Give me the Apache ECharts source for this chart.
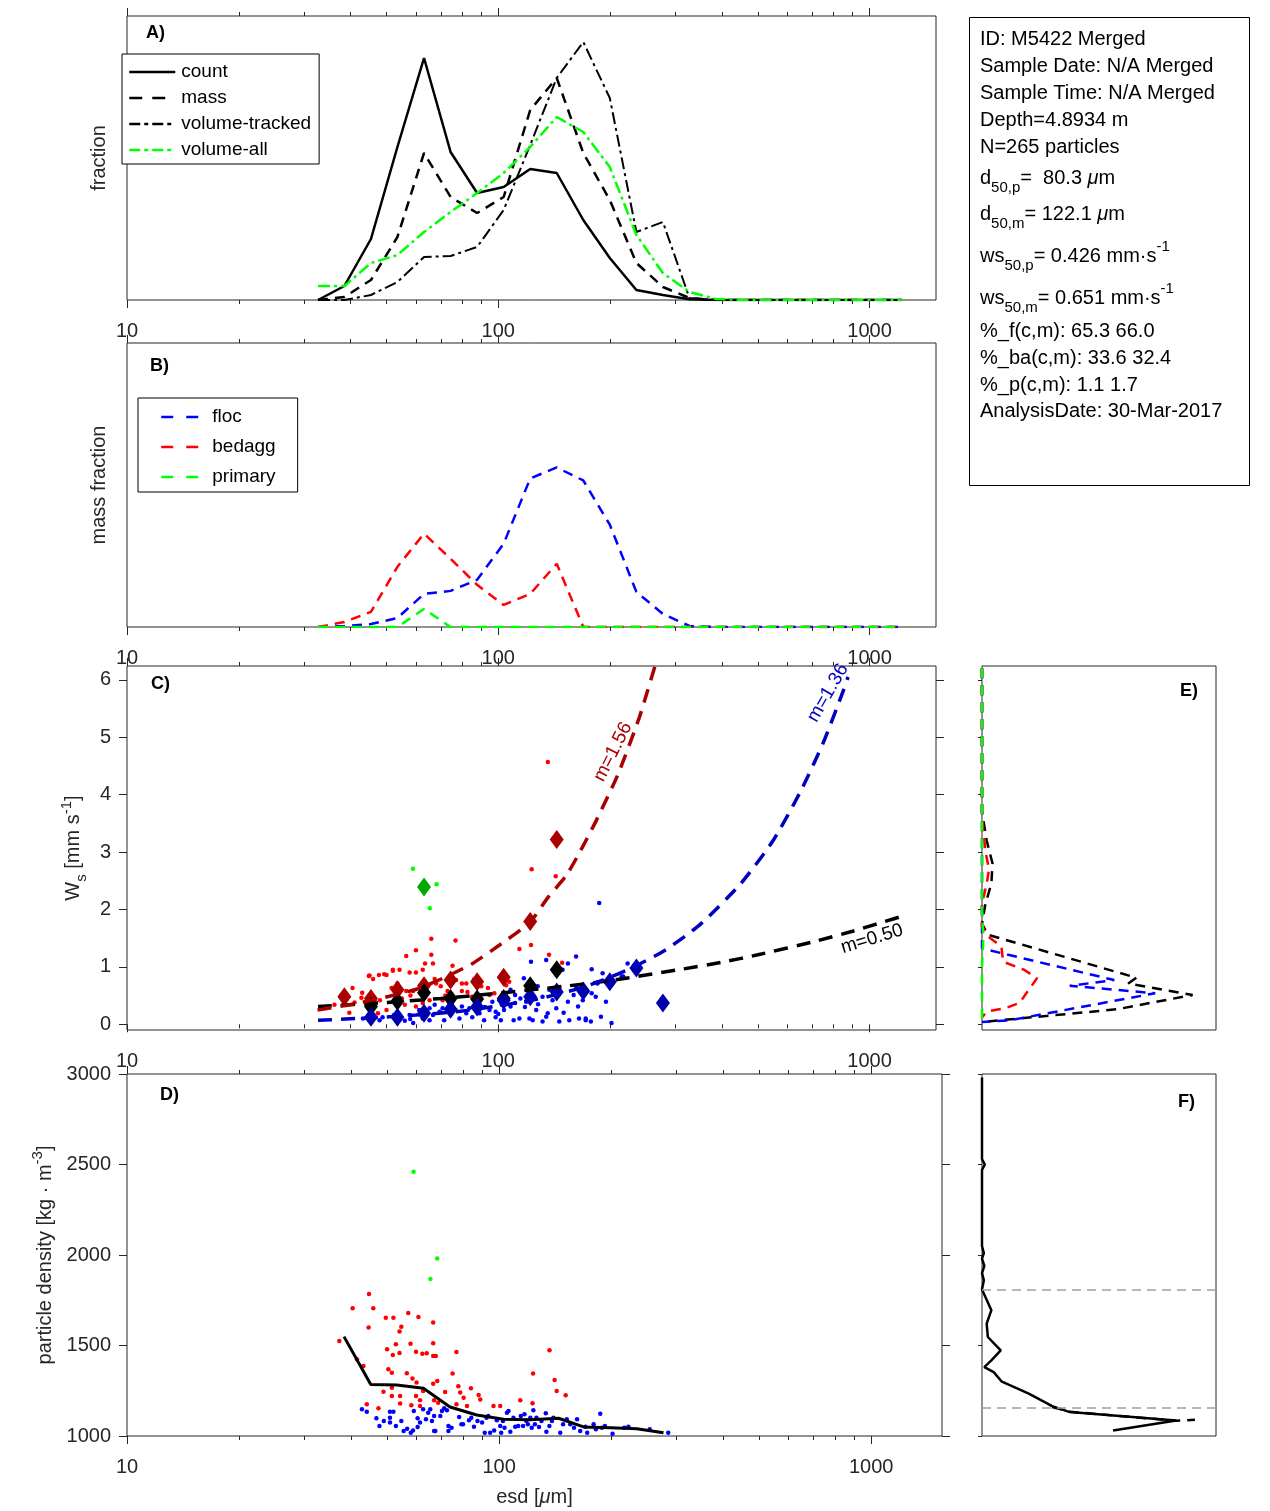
<!DOCTYPE html>
<html><head><meta charset="utf-8">
<script src="https://cdn.jsdelivr.net/npm/echarts@6/dist/echarts.min.js"></script>
<style>html,body{margin:0;padding:0;background:#fff}#c{width:1270px;height:1511px}</style>
</head><body><div id="c"></div>
<script>
// ================= DATA =================
const binEsd = [32.7, 38.5, 45.4, 53.5, 63.1, 74.4, 87.7, 103.4, 121.9, 143.7, 169.4, 199.7, 235.5, 277.6, 327.3, 385.9, 455.0, 536.5, 632.5, 745.7, 879.2, 1036.6, 1222.1];
const countFrac      = [0, 1.4, 6.1, 15.3, 24.2, 14.8, 10.7, 11.3, 13.1, 12.7, 8.0, 4.2, 1.0, 0.5, 0.07, 0, 0, 0, 0, 0, 0, 0, 0];
const massFrac       = [0, 0.3, 2.0, 6.3, 14.7, 10.3, 8.7, 10.3, 19.0, 22.2, 14.7, 10.0, 3.7, 1.3, 0.2, 0, 0, 0, 0, 0, 0, 0, 0];
const volTrackedFrac = [0, 0, 0.5, 1.8, 4.3, 4.4, 5.3, 9.0, 15.5, 22.2, 25.8, 20.2, 6.8, 7.8, 0.2, 0, 0, 0, 0, 0, 0, 0, 0];
const volAllFrac     = [1.4, 1.4, 3.7, 4.5, 6.8, 8.8, 10.7, 12.7, 15.3, 18.3, 16.8, 13.3, 6.5, 2.7, 0.8, 0.1, 0, 0, 0, 0, 0, 0, 0];
const flocMass    = [0, 0.1, 0.3, 0.9, 3.3, 3.6, 4.7, 8.3, 14.8, 15.9, 14.6, 10.2, 3.5, 1.3, 0.1, 0, 0, 0, 0, 0, 0, 0, 0];
const bedaggMass  = [0, 0.5, 1.5, 6.0, 9.3, 6.8, 4.2, 2.2, 3.3, 6.3, 0, 0, 0, 0, 0, 0, 0, 0, 0, 0, 0, 0, 0];
const primaryMass = [0, 0, 0, 0, 1.8, 0, 0, 0, 0, 0, 0, 0, 0, 0, 0, 0, 0, 0, 0, 0, 0, 0, 0];

const majorTicks = [10, 100, 1000];
const minorTicks = [20, 30, 40, 50, 60, 70, 80, 90, 200, 300, 400, 500, 600, 700, 800, 900];
const wsTicks = [0, 1, 2, 3, 4, 5, 6];
const densTicks = [1000, 1500, 2000, 2500, 3000];

// panel C: settling velocity [esd, ws]
const wsBedagg = [[66,1.49],[76.7,1.46],[122.5,1.38],[114,1.31],[60,1.29],[56.5,1.19],[66,1.21],[63.5,1.06],[66.7,1.06],[52,0.95],[54.2,0.95],[49.3,0.87],[57.7,0.9],[60,0.9],[62.6,0.95],[75.3,1.02],[45,0.85],[46,0.79],[77,0.77],[79.8,0.71],[82,0.71],[67.4,0.79],[53.5,0.71],[51.6,0.63],[56.5,0.58],[59,0.58],[40.5,0.63],[36.2,0.34],[73,0.58],[79.8,0.58],[82.6,0.56],[93.8,0.63],[94.7,0.51],[97.6,0.54],[105,0.68],[107,0.74],[89,0.41],[39.7,0.2],[47.4,0.19],[50,0.25],[42.8,0.46],[137,1.21],[148.6,1.07],[70.8,0.42],[65.3,0.42],[60,0.31],[56,0.34],[62.6,0.37],[123,2.70],[142.8,2.58],[136,4.57],[44.8,0.84],[47.7,0.86],[50,0.86],[52,0.93],[38,0.5],[41,0.38],[43,0.55],[48,0.42],[55,0.45],[58,0.5],[64,0.62],[70,0.66],[72,0.5],[85,0.48],[68,0.71],[86,0.78],[90,0.66]];
const wsFloc = [[45,0.16],[47.9,0.07],[52.4,0.16],[56,0.06],[57.9,0.09],[61.2,0.25],[65.3,0.28],[67.4,0.34],[69.5,0.22],[70.8,0.28],[71.5,0.07],[73.9,0.34],[76.7,0.25],[79.8,0.31],[82,0.19],[83.6,0.28],[86.8,0.37],[89,0.19],[91.6,0.07],[94.7,0.25],[96.4,0.39],[98.4,0.22],[101.6,0.07],[103.6,0.25],[107.9,0.31],[111,0.37],[114.7,0.45],[117.2,0.8],[119,0.39],[123.8,0.07],[126.5,0.25],[131.6,0.48],[134.6,0.13],[137.2,0.6],[143.3,0.28],[146,0.05],[149,0.95],[154,0.39],[159.6,0.51],[162,1.18],[164,0.31],[168.9,0.42],[172,0.1],[178.5,0.54],[185,0.71],[191,0.89],[195,0.39],[201.8,0.02],[215,0.83],[223,1.06],[122.5,1.09],[134.6,1.12],[154,1.06],[111,0.51],[105,0.48],[110,0.07],[114,0.1],[121.3,0.1],[131.6,0.05],[135.9,0.19],[155.3,0.07],[165,0.1],[177.6,0.05],[65.3,0.07],[62.6,0.1],[59,0.02],[53,0.1],[48.8,0.12],[43.2,0.1],[57.7,0.16],[66.7,0.16],[74.5,0.19],[78.6,0.1],[85.1,0.12],[98.4,0.12],[102.2,0.34],[107.9,0.6],[127.7,0.66],[162,0.66],[167,0.6],[183,0.48],[189,0.13],[146,0.6],[187,2.11],[217,0.83],[178.5,0.96],[172,0.07],[92,0.3],[118,0.3],[140,0.42],[150,0.2],[128,0.35],[100,0.18]];
const wsPrimary = [[58.9,2.71],[68.2,2.44],[65.4,2.02]];
const wsBedaggMedian = [[38.5,0.48],[45.4,0.45],[53.5,0.60],[63.1,0.67],[74.4,0.77],[87.7,0.74],[103.4,0.82],[121.9,1.79],[143.7,3.22]];
const wsAllMedian = [[45.4,0.31],[53.5,0.40],[63.1,0.55],[74.4,0.45],[87.7,0.44],[103.4,0.45],[121.9,0.67],[143.7,0.95]];
const wsFlocMedian = [[45.4,0.12],[53.5,0.12],[63.1,0.19],[74.4,0.26],[87.7,0.30],[103.4,0.42],[121.9,0.48],[143.7,0.56],[169.4,0.58],[199.7,0.74],[235.5,0.98],[277.6,0.37]];
const wsPrimaryMedian = [[63.1,2.39]];
const fitBedagg = [[32.6,0.25],[39.8,0.34],[48.8,0.46],[60.2,0.61],[70.8,0.80],[85.3,1.06],[100.8,1.38],[121.4,1.77],[135.8,2.2],[152.8,2.6],[168.7,3.09],[184,3.56],[210,4.35],[240,5.35],[266,6.3]];
const fitFloc = [[32.7,0.07],[45,0.11],[60,0.16],[80,0.23],[100,0.32],[130,0.45],[170,0.65],[220,0.93],[280,1.28],[350,1.74],[450,2.45],[550,3.2],[650,4.04],[750,4.9],[850,5.81],[875,6.05]];
const fitAll = [[32.7,0.31],[50,0.38],[70,0.45],[100,0.54],[150,0.66],[200,0.76],[300,0.94],[400,1.08],[500,1.21],[700,1.43],[900,1.62],[1100,1.79],[1222,1.88]];

// panel D: particle density [esd, kg m-3]
const densBedagg = [[44.7,1784],[40.4,1706],[45.9,1706],[37.2,1525],[44.6,1599],[49.6,1654],[52,1654],[57,1679],[60.7,1658],[54.6,1604],[54,1577],[66.5,1627],[52.8,1507],[57.8,1510],[50,1479],[54,1459],[51.8,1448],[59.8,1466],[62.2,1455],[63.9,1457],[66.5,1513],[66.5,1442],[67.6,1442],[76.8,1464],[41.5,1424],[43.2,1387],[50.4,1369],[51.5,1350],[56.5,1347],[58.5,1317],[60,1295],[68.2,1304],[66.5,1289],[75,1345],[77.7,1275],[84,1264],[48.9,1245],[51.5,1267],[62.5,1249],[71.6,1243],[78.6,1240],[88.1,1227],[51.5,1221],[54.2,1221],[59.8,1221],[61.3,1197],[66.9,1197],[68.6,1184],[80.3,1212],[82,1166],[89,1201],[54.2,1179],[58.1,1170],[61.3,1166],[44.1,1175],[47.4,1153],[76.8,1175],[96.6,1166],[100.7,1166],[114,1197],[123,1181],[123.4,1345],[136.6,1474],[141,1310],[142.8,1249],[151,1225]];
const densFloc = [[42.8,1148],[44.1,1134],[46.8,1098],[47.7,1055],[49,1083],[50.9,1134],[52,1134],[50.9,1074],[52.8,1055],[50.9,1101],[54.6,1083],[55.4,1028],[56.6,1040],[57.9,1018],[58.7,1031],[59,1138],[60.4,1098],[60.4,1050],[61.3,1074],[62.5,1148],[63.6,1092],[64.5,1129],[65.3,1148],[66,1083],[66.9,1028],[66.9,1111],[67.4,1028],[69.5,1111],[70.2,1138],[71.2,1153],[72.4,1142],[73.1,1055],[73.1,1028],[74.5,1046],[78.1,1105],[79.2,1065],[80,1065],[83,1087],[84.2,1101],[85.6,1051],[87.5,1083],[90,1074],[91.5,1018],[92.5,1101],[93.5,1111],[94.6,1018],[97,1031],[98.6,1087],[100.7,1055],[101.3,1018],[102.4,1083],[103.4,1046],[105,1129],[106,1138],[107.2,1024],[109.3,1101],[110.5,1051],[112.6,1055],[114.4,1111],[116,1055],[117,1120],[118.4,1083],[119.5,1065],[121.3,1101],[122.4,1046],[123.6,1142],[124.8,1065],[126,1101],[128,1050],[130,1083],[133.5,1126],[134,1024],[136.5,1055],[138.7,1083],[140,1101],[146,1018],[148.6,1065],[152,1092],[155.3,1065],[159,1046],[162,1092],[165.2,1028],[170.7,1051],[172.5,1018],[179.5,1065],[182,1037],[187,1123],[189,1046],[192.5,1055],[201.8,1013],[217,1046],[222.6,1051],[254,1037],[284.8,1018]];
const densPrimary = [[58.9,2460],[68.2,1980],[65.4,1868]];
const densMedian = [[38.3,1549],[45.2,1285],[53.1,1282],[62.6,1264],[73.8,1160],[87.1,1116],[102.8,1092],[121.2,1090],[144.4,1098],[168.7,1050],[199,1046],[234.5,1040],[276.6,1018]];

// panel E: ws distributions [fraction, ws]
const eAll = [[0,6.2],[0,3.7],[0.02,3.2],[0.045,2.8],[0.04,2.45],[0.015,2.1],[0,1.75],[0.025,1.56],[0.66,0.81],[0.625,0.71],[0.90,0.51],[0.575,0.26],[0,0.04]];
const eFloc = [[0,6.2],[0,1.32],[0.565,0.77],[0.375,0.67],[0.74,0.54],[0.12,0.07],[0,0.04]];
const eBedagg = [[0,6.2],[0,3.6],[0.015,3.0],[0.03,2.7],[0.02,2.45],[0,2.1],[0,1.7],[0.026,1.53],[0.083,1.35],[0.09,1.09],[0.18,0.95],[0.235,0.80],[0.20,0.60],[0.16,0.37],[0.10,0.28],[0.02,0.22],[0,0.12]];
const ePrimary = [[0,6.2],[0,2.0],[0.006,1.5],[0,1.0],[0,0]];

// panel F: density distribution [fraction, density]
const fDensity = [[0,2980],[0,2530],[0.012,2500],[0,2470],[0,2050],[0.008,2010],[0,1980],[0.01,1940],[0,1900],[0.008,1860],[0,1810],[0.04,1695],[0.02,1621],[0.025,1547],[0.08,1473],[0.04,1418],[0.01,1381],[0.05,1353],[0.085,1300],[0.2,1234],[0.3,1165],[0.375,1132],[0.83,1086],[0.56,1030]];
const fDensityB = [[0.3,1160],[0.375,1134],[0.83,1084],[0.91,1090]];
const fLimits = [1154, 1806];

// ================= STYLE HELPERS =================
const FONT = 'Liberation Sans, Arial, Helvetica, sans-serif';
const AX = '#262626';
const grids = [
  {left:127, top:16,   width:809, height:284},
  {left:127, top:343,  width:809, height:284},
  {left:127, top:666,  width:809, height:364},
  {left:127, top:1074, width:815, height:362},
  {left:982, top:666,  width:234, height:364},
  {left:982, top:1074, width:234, height:362}
].map(g => Object.assign({show:true, borderColor:AX, borderWidth:1, backgroundColor:'transparent'}, g));

const xAxes = [], yAxes = [];
function addLogX(g, max) {
  const base = {type:'log', logBase:10, gridIndex:g, min:10, max:max,
    axisLine:{show:false}, splitLine:{show:false}, minorTick:{show:false}, minorSplitLine:{show:false}};
  const idx = xAxes.length;
  xAxes.push(Object.assign({}, base, {position:'bottom',
    axisTick:{show:true, inside:false, length:8, customValues:majorTicks, lineStyle:{color:AX, width:1}},
    axisLabel:{show:true, customValues:majorTicks, formatter:v => String(Math.round(v)), color:AX, fontSize:20, fontFamily:FONT, margin:21}}));
  xAxes.push(Object.assign({}, base, {position:'bottom',
    axisTick:{show:true, inside:false, length:4, customValues:minorTicks, lineStyle:{color:AX, width:1}}, axisLabel:{show:false}}));
  xAxes.push(Object.assign({}, base, {position:'top',
    axisTick:{show:true, inside:false, length:8, customValues:majorTicks, lineStyle:{color:AX, width:1}}, axisLabel:{show:false}}));
  xAxes.push(Object.assign({}, base, {position:'top',
    axisTick:{show:true, inside:false, length:4, customValues:minorTicks, lineStyle:{color:AX, width:1}}, axisLabel:{show:false}}));
  return idx;
}
function addValX(g) {
  const idx = xAxes.length;
  xAxes.push({type:'value', gridIndex:g, min:0, max:1, show:false});
  return idx;
}
const nameStyle = {fontSize:20, color:AX, fontFamily:FONT,
  rich:{a:{fontSize:20, color:AX, fontFamily:FONT, lineHeight:30},
        sub:{fontSize:15, color:AX, fontFamily:FONT, lineHeight:14, verticalAlign:'bottom'},
        sup:{fontSize:15, color:AX, fontFamily:FONT, lineHeight:14, verticalAlign:'top'},
        it:{fontSize:20, color:AX, fontFamily:FONT, fontStyle:'italic', lineHeight:30}}};
function addY(g, opt) {
  const idx = yAxes.length;
  yAxes.push(Object.assign({type:'value', gridIndex:g, axisLine:{show:false}, splitLine:{show:false},
    axisTick:{show:false}, axisLabel:{show:false}, nameLocation:'middle', nameTextStyle:nameStyle}, opt));
  return idx;
}
function ticksY(g, min, max, vals, labels) {
  const left = addY(g, {min, max, position:'left',
    axisTick:{show:true, inside:false, length:8, customValues:vals, lineStyle:{color:AX}},
    axisLabel:{show:labels, customValues:vals, formatter:v => String(v), color:AX, fontSize:20, fontFamily:FONT, margin:16}});
  addY(g, {min, max, position:'right',
    axisTick:{show:true, inside:false, length:8, customValues:vals, lineStyle:{color:AX}}});
  return left;
}

// axes
const xA = addLogX(0, 1510), xB = addLogX(1, 1510), xC = addLogX(2, 1510), xD = addLogX(3, 1550);
const xE = addValX(4), xF = addValX(5);
const yA = addY(0, {min:0, max:28.4, name:'fraction', nameGap:18});
const yB = addY(1, {min:0, max:28.3, name:'mass fraction', nameGap:18});
const yC = ticksY(2, -0.1, 6.24, wsTicks, true);
yAxes[yC].name = '{a|W}{sub|s}{a| [mm s}{sup|-1}{a|]}';
yAxes[yC].nameGap = 37;
const yD = ticksY(3, 1000, 3000, densTicks, true);
yAxes[yD].name = '{a|particle density [kg · m}{sup|-3}{a|]}';
yAxes[yD].nameGap = 57;
xAxes[xD].name = '{a|esd [}{it|μ}{a|m]}';
xAxes[xD].nameLocation = 'middle';
xAxes[xD].nameGap = 46;
xAxes[xD].nameTextStyle = nameStyle;
const yE = addY(4, {min:-0.1, max:6.24, position:'right',
  axisTick:{show:true, inside:true, length:4, customValues:wsTicks, lineStyle:{color:AX}}});
const yF = addY(5, {min:1000, max:3000, position:'right',
  axisTick:{show:true, inside:true, length:4, customValues:densTicks, lineStyle:{color:AX}}});

// series helpers
const pair = (xs, ys) => xs.map((x, i) => [x, ys[i]]);
function line(name, xi, yi, data, color, width, type, extra) {
  return Object.assign({name, type:'line', xAxisIndex:xi, yAxisIndex:yi, data, symbol:'none',
    lineStyle:{color, width, type}, itemStyle:{color}, silent:true, z:3}, extra || {});
}
function dots(name, xi, yi, data, color, size, symbol) {
  return {name, type:'scatter', xAxisIndex:xi, yAxisIndex:yi, data, symbol:symbol || 'circle',
    symbolSize:size, itemStyle:{color, opacity:1}, silent:true, z:2};
}
const DASH = [10, 7], DASHDOT = [12, 4, 3, 4], FITDASH = [14, 9];
const DKRED = '#aa0000', DKBLUE = '#0000aa';

const series = [
  // A
  line('count', xA, yA, pair(binEsd, countFrac), '#000', 2.5, 'solid'),
  line('mass', xA, yA, pair(binEsd, massFrac), '#000', 2.5, DASH),
  line('volume-tracked', xA, yA, pair(binEsd, volTrackedFrac), '#000', 2, DASHDOT),
  line('volume-all', xA, yA, pair(binEsd, volAllFrac), '#00ff00', 2.5, DASHDOT),
  // B
  line('floc', xB, yB, pair(binEsd, flocMass), '#0000ff', 2.5, DASH),
  line('bedagg', xB, yB, pair(binEsd, bedaggMass), '#ff0000', 2.5, DASH),
  line('primary', xB, yB, pair(binEsd, primaryMass), '#00ff00', 2.5, DASH),
  // C
  dots('ws bedagg', xC, yC, wsBedagg, '#ff0000', 4.5),
  dots('ws floc', xC, yC, wsFloc, '#0000ff', 4.5),
  dots('ws primary', xC, yC, wsPrimary, '#00ff00', 4.5),
  line('fit all', xC, yC, fitAll, '#000', 3.5, FITDASH, {smooth:0.2}),
  line('fit bedagg', xC, yC, fitBedagg, DKRED, 3.5, FITDASH, {smooth:0.2}),
  line('fit floc', xC, yC, fitFloc, '#0000c0', 3.5, FITDASH, {smooth:0.2}),
  dots('med bedagg', xC, yC, wsBedaggMedian, DKRED, [14, 19], 'diamond'),
  dots('med all', xC, yC, wsAllMedian, '#000', [14, 19], 'diamond'),
  dots('med floc', xC, yC, wsFlocMedian, DKBLUE, [14, 19], 'diamond'),
  dots('med primary', xC, yC, wsPrimaryMedian, '#00aa00', [14, 19], 'diamond'),
  // D
  dots('dens bedagg', xD, yD, densBedagg, '#ff0000', 4.5),
  dots('dens floc', xD, yD, densFloc, '#0000ff', 4.5),
  dots('dens primary', xD, yD, densPrimary, '#00ff00', 4.5),
  line('dens median', xD, yD, densMedian, '#000', 3, 'solid'),
  // E
  line('E all', xE, yE, eAll, '#000', 2.5, DASH),
  line('E floc', xE, yE, eFloc, '#0000ff', 2.5, DASH),
  line('E bedagg', xE, yE, eBedagg, '#ff0000', 2.5, DASH),
  line('E primary', xE, yE, ePrimary, '#00ff00', 2.5, DASH),
  // F
  line('F dens', xF, yF, fDensity, '#000', 2.5, 'solid', {
    markLine:{silent:true, symbol:'none', label:{show:false},
      lineStyle:{color:'#a0a0a0', type:[9, 6], width:1.5},
      data: fLimits.map(v => ({yAxis:v}))}}),
  line('F dens b', xF, yF, fDensityB, '#000', 2.5, DASH)
];

// graphic texts
const infoLines = [
  {y:39,  t:'{a|ID: M5422 Merged}'},
  {y:66,  t:'{a|Sample Date: N/A Merged}'},
  {y:93,  t:'{a|Sample Time: N/A Merged}'},
  {y:120, t:'{a|Depth=4.8934 m}'},
  {y:147, t:'{a|N=265 particles}'},
  {y:178, t:'{a|d}{sub|50,p}{a|=  80.3 }{it|μ}{a|m}'},
  {y:214, t:'{a|d}{sub|50,m}{a|= 122.1 }{it|μ}{a|m}'},
  {y:256, t:'{a|ws}{sub|50,p}{a|= 0.426 mm·s}{sup|-1}'},
  {y:298, t:'{a|ws}{sub|50,m}{a|= 0.651 mm·s}{sup|-1}'},
  {y:331, t:'{a|%_f(c,m): 65.3 66.0}'},
  {y:358, t:'{a|%_ba(c,m): 33.6 32.4}'},
  {y:385, t:'{a|%_p(c,m): 1.1 1.7}'},
  {y:411, t:'{a|AnalysisDate: 30-Mar-2017}'}
];
const infoRich = {
  a:{fontSize:20, fontFamily:FONT, fill:'#000', lineHeight:34},
  it:{fontSize:20, fontFamily:FONT, fill:'#000', fontStyle:'italic', lineHeight:34},
  sub:{fontSize:15, fontFamily:FONT, fill:'#000', lineHeight:14, verticalAlign:'bottom'},
  sup:{fontSize:15, fontFamily:FONT, fill:'#000', lineHeight:14, verticalAlign:'top'}
};
const graphics = [
  {type:'rect', shape:{x:969.5, y:17.5, width:280, height:468}, style:{fill:'#fff', stroke:'#000', lineWidth:1}, z:1},
  ...infoLines.map(l => ({type:'text', x:980, y:l.y, z:2,
    style:{text:l.t, rich:infoRich, verticalAlign:'middle', align:'left', fontFamily:FONT, fontSize:20}})),
  ...[['A)',146,33],['B)',150,366],['C)',151,684],['D)',160,1095],['E)',1180,691],['F)',1178,1102]].map(p => ({
    type:'text', x:p[1], y:p[2], z:10, style:{text:p[0], fontSize:18, fontWeight:'bold', fontFamily:FONT, fill:'#000', verticalAlign:'middle'}})),
  {type:'text', x:613, y:752, rotation:63*Math.PI/180, z:10,
   style:{text:'m=1.56', fontSize:19, fontFamily:FONT, fill:DKRED, align:'center', verticalAlign:'middle'}},
  {type:'text', x:828, y:693, rotation:60*Math.PI/180, z:10,
   style:{text:'m=1.36', fontSize:19, fontFamily:FONT, fill:'#0000c0', align:'center', verticalAlign:'middle'}},
  {type:'text', x:872, y:939, rotation:17*Math.PI/180, z:10,
   style:{text:'m=0.50', fontSize:19, fontFamily:FONT, fill:'#000', align:'center', verticalAlign:'middle'}}
];

const legendCommon = {orient:'vertical', borderColor:'#000', borderWidth:1, backgroundColor:'#fff',
  selectedMode:false, itemStyle:{opacity:0, borderWidth:0}};
const chart = echarts.init(document.getElementById('c'), null, {renderer:'canvas'});
chart.setOption({
  animation:false,
  backgroundColor:'#fff',
  textStyle:{fontFamily:FONT},
  grid:grids,
  xAxis:xAxes,
  yAxis:yAxes,
  legend:[
    Object.assign({data:[
        {name:'count', lineStyle:{width:2.5, type:'solid'}},
        {name:'mass', lineStyle:{width:2.5, type:[13, 10]}},
        {name:'volume-tracked', lineStyle:{width:2.5, type:[11, 4, 4, 4]}},
        {name:'volume-all', lineStyle:{width:2.5, type:[11, 4, 4, 4]}}],
     left:122, top:54,
     itemWidth:46, itemHeight:10, itemGap:6, padding:[8,8,4,6],
     textStyle:{fontSize:19, color:'#000', fontFamily:FONT, lineHeight:20, padding:[0,0,0,1]}}, legendCommon),
    Object.assign({data:[
        {name:'floc', lineStyle:{width:2.5, type:[12, 13]}},
        {name:'bedagg', lineStyle:{width:2.5, type:[12, 13]}},
        {name:'primary', lineStyle:{width:2.5, type:[12, 13]}}],
     left:138, top:398,
     itemWidth:37, itemHeight:10, itemGap:10, padding:[9,22,5,22],
     textStyle:{fontSize:19, color:'#000', fontFamily:FONT, lineHeight:20, padding:[0,0,0,9]}}, legendCommon)
  ],
  series,
  graphic:graphics
});
</script></body></html>
